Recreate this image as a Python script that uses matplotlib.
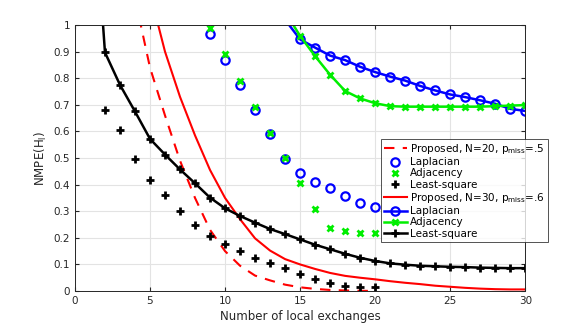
import numpy as np
import matplotlib.pyplot as plt

# N=20, p_miss=.5 (markers only, proposed dashed)
x20 = np.arange(4, 21)
prop20 = [1.1, 0.84, 0.66, 0.49, 0.35, 0.23, 0.15, 0.095, 0.058, 0.04,
          0.024, 0.014, 0.008, 0.004, 0.002, 0.001, 0.0]
x20_lap = np.arange(9, 21)
lap20 = [0.965, 0.87, 0.775, 0.68, 0.59, 0.495, 0.445, 0.409, 0.386, 0.358, 0.332, 0.315]
adj20 = [0.99, 0.89, 0.79, 0.69, 0.595, 0.50, 0.405, 0.31, 0.236, 0.224, 0.217, 0.217]
x20_ls = np.arange(2, 21)
ls20 = [0.68, 0.605, 0.495, 0.417, 0.36, 0.30, 0.247, 0.207, 0.177, 0.15,
        0.126, 0.104, 0.085, 0.064, 0.044, 0.029, 0.019, 0.017, 0.015]

# N=30, p_miss=.6 (lines)
x30_prop = np.arange(5, 31)
prop30 = [1.12, 0.90, 0.73, 0.585, 0.455, 0.35, 0.27, 0.198, 0.152, 0.12,
          0.10, 0.083, 0.068, 0.057, 0.05, 0.044, 0.037, 0.031, 0.026, 0.02,
          0.016, 0.012, 0.009, 0.007, 0.006, 0.006]
x30_lap = np.arange(14, 31)
lap30 = [1.02, 0.946, 0.915, 0.885, 0.868, 0.843, 0.823, 0.806, 0.791, 0.771,
         0.754, 0.739, 0.729, 0.717, 0.704, 0.685, 0.677]
adj30 = [1.05, 0.959, 0.883, 0.813, 0.752, 0.724, 0.706, 0.695, 0.693, 0.693,
         0.693, 0.693, 0.693, 0.693, 0.695, 0.697, 0.699]
x30_ls = np.arange(1, 31)
ls30 = [1.7, 0.897, 0.775, 0.675, 0.572, 0.513, 0.457, 0.405, 0.351, 0.311,
        0.282, 0.257, 0.233, 0.214, 0.194, 0.174, 0.157, 0.14, 0.125, 0.113,
        0.104, 0.099, 0.095, 0.093, 0.091, 0.09, 0.088, 0.087, 0.086, 0.086]

fig = plt.figure(figsize=(5.81, 3.27), dpi=100)
ax = fig.add_axes([0.129, 0.110, 0.775, 0.8135])

ax.plot(x20, prop20, '--', color='red', lw=1.5, dashes=(5, 4),
        label=r'Proposed, N=20, p$_\mathregular{miss}$=.5')
ax.plot(x20_lap, lap20, 'o', color='blue', ms=6, mfc='none', mew=1.6, ls='none',
        label='Laplacian')
ax.plot(x20_lap, adj20, 'x', color='#00ee00', ms=4, mew=2, ls='none',
        label='Adjacency')
ax.plot(x20_ls, ls20, '+', color='black', ms=6, mew=2, ls='none',
        label='Least-square')
ax.plot(x30_prop, prop30, '-', color='red', lw=1.5,
        label=r'Proposed, N=30, p$_\mathregular{miss}$=.6')
ax.plot(x30_lap, lap30, '-o', color='blue', lw=1.8, ms=6, mfc='none', mew=1.6,
        label='Laplacian')
ax.plot(x30_lap, adj30, '-x', color='#00ee00', lw=1.8, ms=4, mew=2,
        label='Adjacency')
ax.plot(x30_ls, ls30, '-+', color='black', lw=1.8, ms=6, mew=2,
        label='Least-square')

ax.set_xlim(0, 30)
ax.set_ylim(0, 1)
ax.set_xticks(np.arange(0, 31, 5))
ax.set_yticks(np.arange(0, 1.01, 0.1))
ax.set_yticklabels(['0'] + ['%.1f' % v for v in np.arange(0.1, 0.95, 0.1)] + ['1'])
ax.grid(True, color='#e3e3e3', lw=0.8)
ax.set_axisbelow(True)
ax.tick_params(direction='in', top=True, right=True, labelsize=7.5,
               colors='#262626', length=3)
for s in ax.spines.values():
    s.set_color('#262626')
    s.set_linewidth(0.7)

ax.set_xlabel('Number of local exchanges', fontsize=8.5, color='#262626', labelpad=3)
ax.set_ylabel(r'NMPE(H$_\mathregular{l}$)', fontsize=8.5, color='#262626', labelpad=3)

leg = ax.legend(loc='lower left', bbox_to_anchor=(0.679, 0.185), fontsize=7.5,
                frameon=True, fancybox=False, edgecolor='#262626',
                handlelength=2.2, handletextpad=0.3, borderpad=0.3,
                labelspacing=0.12, borderaxespad=0)
leg.get_frame().set_linewidth(0.7)

fig.savefig('out.png', dpi=100)
